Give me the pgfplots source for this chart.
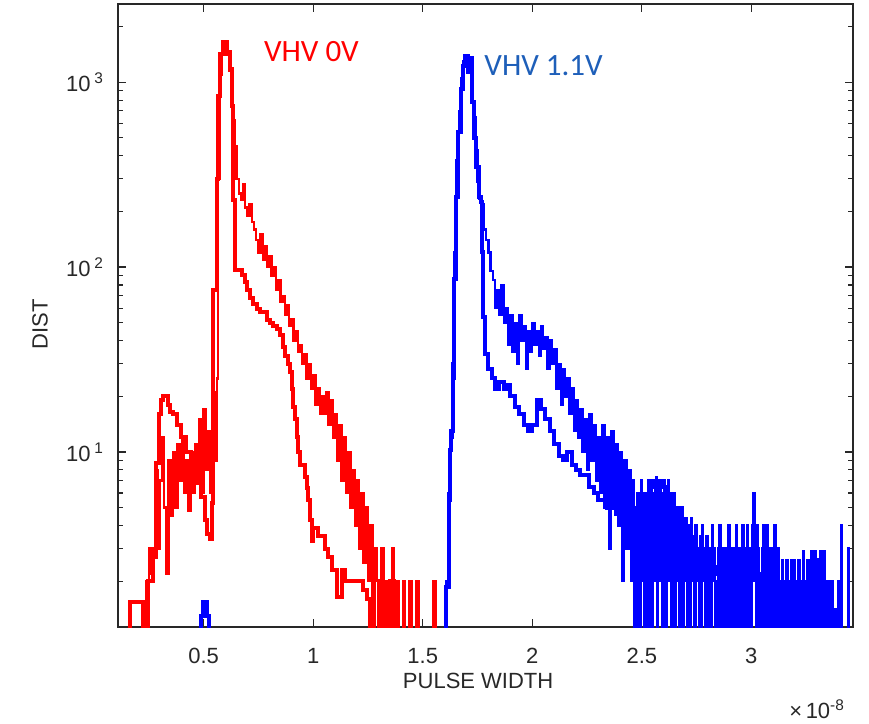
\documentclass[border=0pt]{standalone}
\usepackage{pgfplots}
\pgfplotsset{compat=1.18}
\usepackage{fontspec}
\setmainfont{Liberation Sans}
\newfontfamily\carlito{Carlito}
\definecolor{pred}{RGB}{255,0,0}
\definecolor{pblue}{RGB}{0,0,255}
\definecolor{tblue}{RGB}{30,95,185}
\definecolor{axgray}{RGB}{40,40,40}
\begin{document}
\begin{tikzpicture}
\useasboundingbox (-59pt,-48.5pt) rectangle (375.5pt,313.5pt);
\begin{axis}[
  scale only axis, width=367.5pt, height=311.5pt,
  ymode=log, xmin=0.109, xmax=3.464, ymin=1.13, ymax=2650,
  xtick={0.5,1,1.5,2,2.5,3}, xticklabels={0.5,1,1.5,2,2.5,3},
  ytick={10,100,1000},
  yticklabels={10\,\textsuperscript{1},10\,\textsuperscript{2},10\,\textsuperscript{3}},
  minor xtick={},
  minor ytick={2,3,4,5,6,7,8,9,20,30,40,50,60,70,80,90,200,300,400,500,600,700,800,900,2000},
  tick align=inside, major tick length=4pt, minor tick length=2.5pt,
  axis line style={line width=0.8pt, axgray},
  every tick/.style={axgray, line width=0.6pt},
  tick label style={font=\fontsize{11}{13}\selectfont, axgray},
  xticklabel style={yshift=-7pt},
  yticklabel style={xshift=-3.5pt},
  xlabel={PULSE WIDTH}, ylabel={DIST},
  label style={font=\fontsize{11}{13}\selectfont, axgray},
  xlabel style={at={(rel axis cs:0.49,-0.087)}, anchor=center},
  ylabel style={at={(rel axis cs:-0.106,0.486)}, anchor=center},
  const plot, no marks,
]
% red, thin noisy series
\addplot[pred, line width=1.2pt] coordinates {
(0.225,1)(0.24,2)(0.25,3)(0.26,2.2)(0.27,3)(0.28,8)(0.29,3)(0.30,7)(0.31,12)(0.32,5)
(0.33,2.2)(0.34,9)(0.35,4.5)(0.36,10)(0.37,5)(0.38,11)(0.39,7)(0.40,12)(0.41,6)(0.42,9)
(0.43,4.8)(0.44,10)(0.45,6)(0.46,11)(0.47,7)(0.48,15)(0.49,6)(0.50,17)(0.51,8)(0.52,13)
(0.53,6)(0.54,21)(0.55,9)(0.56,25)(0.565,300)(0.575,1100)(0.585,1600)(0.595,1550)(0.605,1400)(0.615,1150)
(0.625,800)(0.63,620)(0.64,450)(0.65,300)(0.66,250)(0.67,230)(0.68,280)(0.69,210)(0.70,190)(0.71,220)
(0.72,175)(0.73,160)(0.74,140)(0.75,120)(0.76,150)(0.77,110)(0.78,130)(0.79,100)(0.80,115)(0.81,90)
(0.82,100)(0.83,75)(0.84,85)(0.85,65)(0.86,70)(0.87,55)(0.88,62)(0.89,48)(0.90,52)(0.91,40)
(0.92,45)(0.93,35)(0.94,38)(0.95,30)(0.96,34)(0.97,25)(0.98,30)(0.99,22)(1.00,26)(1.01,18)
(1.02,22)(1.03,16)(1.04,20)(1.05,16)(1.06,21)(1.07,14)(1.08,19)(1.09,12)(1.10,16)(1.11,9)
(1.12,14)(1.13,7)(1.14,12)(1.15,6)(1.16,10)(1.17,5)(1.18,8)(1.19,4)(1.20,7)(1.21,3)
(1.22,6)(1.23,2.5)(1.24,5)(1.25,2)(1.26,4)(1.27,1)(1.28,3)(1.29,2)(1.30,1)(1.31,3)
(1.32,1)(1.33,2)(1.34,1)(1.36,3)(1.37,1)(1.38,2)(1.39,1)(1.41,2)(1.42,1)(1.44,2)
(1.45,1)(1.47,2)(1.48,1)(1.55,2)(1.56,1)(1.60,1)
};
% red, thick series
\addplot[pred, line width=2pt] coordinates {
(0.10,1)(0.165,1.55)(0.225,1)(0.245,2)(0.27,2.7)(0.283,8.7)(0.298,16)(0.305,19)(0.315,20)(0.335,18)
(0.345,16.5)(0.36,16)(0.38,14)(0.398,12)(0.421,10)(0.443,8.3)(0.466,6.8)(0.489,5.7)(0.507,4.3)(0.516,3.6)
(0.527,3.4)(0.539,5.3)(0.544,75)(0.559,298)(0.566,840)(0.574,1420)(0.590,1650)(0.606,1450)(0.620,1180)(0.629,740)
(0.634,232)(0.643,97)(0.675,91)(0.688,83)(0.698,75)(0.711,68)(0.725,63)(0.743,59)(0.757,57)(0.790,52)
(0.803,50)(0.816,48)(0.834,46)(0.848,43)(0.862,37)(0.871,33)(0.885,30)(0.894,27)(0.903,22)(0.908,17.5)
(0.917,15)(0.926,12)(0.930,10)(0.939,8.5)(0.962,7.3)(0.971,6.4)(0.976,5.5)(0.985,4.3)(0.994,3.3)(0.999,3.9)
(1.022,3.5)(1.054,3.0)(1.067,2.7)(1.085,2.3)(1.108,1.65)(1.131,2.3)(1.145,2.0)(1.227,1.8)(1.245,1.6)(1.26,1)
(1.30,2)(1.32,1)(1.35,2)(1.37,1)(1.40,1)
};
% blue, thin noisy series
\addplot[pblue, line width=1.2pt] coordinates {
(1.59,1)(1.605,2)(1.615,6)(1.625,12)(1.635,25)(1.645,120)(1.655,380)(1.665,700)(1.675,1050)(1.685,1300)
(1.695,1350)(1.705,1250)(1.712,1320)(1.72,950)(1.73,650)(1.74,430)(1.75,290)(1.76,235)(1.77,220)(1.78,160)
(1.79,140)(1.80,120)(1.81,95)(1.82,85)(1.83,60)(1.84,75)(1.85,55)(1.86,80)(1.87,50)(1.88,60)
(1.89,38)(1.90,55)(1.91,35)(1.92,50)(1.93,30)(1.94,55)(1.95,40)(1.96,48)(1.97,28)(1.98,45)
(1.99,35)(2.00,50)(2.01,38)(2.02,45)(2.03,33)(2.04,48)(2.05,36)(2.06,42)(2.07,28)(2.08,40)
(2.09,30)(2.10,36)(2.11,22)(2.12,30)(2.13,18)(2.14,28)(2.15,20)(2.16,25)(2.17,16)(2.18,22)
(2.19,13)(2.20,19)(2.21,12)(2.22,17)(2.23,10)(2.24,15)(2.25,8)(2.26,16)(2.27,9)(2.28,14)
(2.29,7)(2.30,12)(2.31,6)(2.32,14)(2.33,5)(2.34,12)(2.35,3)(2.36,13)(2.37,5)(2.38,11)
(2.39,4)(2.40,10)(2.41,2)(2.42,9)(2.43,3)(2.44,8)
(2.450,2)(2.455,6)(2.460,7)(2.465,1)(2.470,5)(2.475,1)(2.480,6)(2.485,3)(2.490,1)(2.495,7)
(2.500,2)(2.505,6)(2.510,1)(2.515,5)(2.520,6)(2.525,1)(2.530,7)(2.535,3)(2.540,7)(2.545,1)
(2.550,6)(2.555,2)(2.560,7)(2.565,7.3)(2.570,1)(2.575,6)(2.580,7)(2.585,2)(2.590,6)(2.595,1)
(2.600,7)(2.605,5)(2.610,1)(2.615,6)(2.620,7)(2.625,2)(2.630,6)(2.635,1)(2.640,5)(2.645,6)
(2.650,1)(2.655,5)(2.660,2)(2.665,5)(2.670,1)(2.675,4.4)(2.680,5)(2.685,1)(2.690,4.4)(2.695,2)
(2.700,4.4)(2.705,1)(2.710,4)(2.715,3)(2.720,1)(2.725,4.4)(2.730,2)(2.735,3.5)(2.740,1)(2.745,4)
(2.750,2)(2.755,3)(2.760,1)(2.765,3.5)(2.770,1)(2.775,4)(2.780,2)(2.785,3)(2.790,1)(2.795,3.5)
(2.800,2)(2.805,1)(2.810,3)(2.815,1)(2.820,4)(2.825,2)(2.830,3)(2.835,1)(2.840,2)(2.845,1)
(2.850,3)(2.855,4)(2.860,1)(2.865,3)(2.870,1)(2.875,2)(2.880,3)(2.885,1)(2.890,2)(2.895,4)
(2.900,1)(2.905,3)(2.910,2)(2.915,1)(2.920,3)(2.925,1)(2.930,4)(2.935,2)(2.940,1)(2.945,3)
(2.950,2)(2.955,1)(2.960,4)(2.965,2)(2.970,1)(2.975,3)(2.980,4)(2.985,1)(2.990,3)(2.995,1)
(3.000,2)(3.005,4)(3.010,6)(3.015,2)(3.020,1)(3.025,4)(3.030,3)(3.035,1)(3.040,2)(3.045,1)
(3.050,3)(3.055,4)(3.060,1)(3.065,2)(3.070,4)(3.075,1)(3.080,3)(3.085,1)(3.090,2)(3.095,3)
(3.100,1)(3.105,4)(3.110,2)(3.115,1)(3.120,3)(3.125,1)(3.130,2)(3.135,1)(3.140,2.6)(3.145,1)
(3.150,2)(3.155,1)(3.160,2.6)(3.165,1)(3.170,2)(3.175,1)(3.180,2.6)(3.185,2)(3.190,1)(3.195,2.6)
(3.200,1)(3.205,2)(3.210,1)(3.215,2.6)(3.220,1)(3.225,2)(3.230,1)(3.235,2.9)(3.240,1)(3.245,2)
(3.250,1)(3.255,2.6)(3.260,1)(3.265,2)(3.270,1)(3.275,2.9)(3.280,2)(3.285,1)(3.290,2.9)(3.295,2)
(3.300,1)(3.305,2.6)(3.310,1)(3.315,2.9)(3.320,2)(3.325,1)(3.330,2.9)(3.335,1)(3.340,2)(3.345,1)
(3.350,2)(3.355,1)(3.365,2)(3.370,1)(3.395,2)(3.400,1)(3.410,4)(3.415,1)(3.440,3)(3.445,1)(3.47,1)
};
% blue, thick series
\addplot[pblue, line width=2pt] coordinates {
(0.48,1)(0.487,1.3)(0.495,1.55)(0.515,1.3)(0.523,1)
(1.590,1)(1.604,1.85)(1.618,5.5)(1.625,10.2)(1.631,13)(1.636,30)(1.643,86)(1.650,240)(1.662,535)(1.675,916)
(1.684,1230)(1.692,1380)(1.707,1130)(1.715,1350)(1.723,780)(1.735,500)(1.745,350)(1.755,240)(1.765,225)(1.772,120)
(1.776,54)(1.783,34)(1.798,28)(1.814,25)(1.83,22)(1.85,24)(1.87,22)(1.88,23)(1.90,20)(1.92,17.5)
(1.94,16)(1.96,14)(1.98,13)(2.00,14)(2.02,19)(2.04,17)(2.06,15)(2.08,13)(2.10,11)(2.12,9.5)
(2.14,9)(2.16,10)(2.18,8.5)(2.20,8)(2.22,7.5)(2.24,7.5)(2.26,6.5)(2.28,6)(2.30,5.5)(2.32,5.5)
(2.34,5)(2.36,5)(2.38,4.6)(2.40,4.4)(2.42,4.2)(2.44,4)(2.46,4)(2.48,4.5)(2.50,5)(2.52,5.8)
(2.54,6.5)(2.56,7)(2.58,7)(2.60,6.5)(2.62,5.8)(2.64,5)(2.66,4.4)(2.68,4)(2.70,3.6)(2.72,3.3)
(2.74,3)(2.76,2.8)(2.78,2.6)(2.80,2.5)(2.82,2.4)(2.84,2.2)(2.86,2.2)(2.88,2.1)(2.90,2)(2.95,1.9)
(3.00,2.2)(3.05,2.0)(3.10,1.8)(3.15,1.7)(3.20,1.6)(3.25,1.8)(3.28,2.6)(3.31,2.2)(3.33,1.7)(3.36,1.4)
(3.38,1)(3.40,1)
};
\node[font=\carlito\fontsize{15.5}{18}\selectfont, text=pred, anchor=center] at (axis cs:0.992,1472) {VHV 0V};
\node[font=\carlito\fontsize{15.5}{18}\selectfont, text=tblue, anchor=center] at (axis cs:2.052,1222) {VHV 1.1V};
\end{axis}
\node[anchor=base east, font=\fontsize{11}{13}\selectfont, text=axgray] at (367pt,-45.5pt) {×\,10\textsuperscript{-8}};
\end{tikzpicture}
\end{document}
